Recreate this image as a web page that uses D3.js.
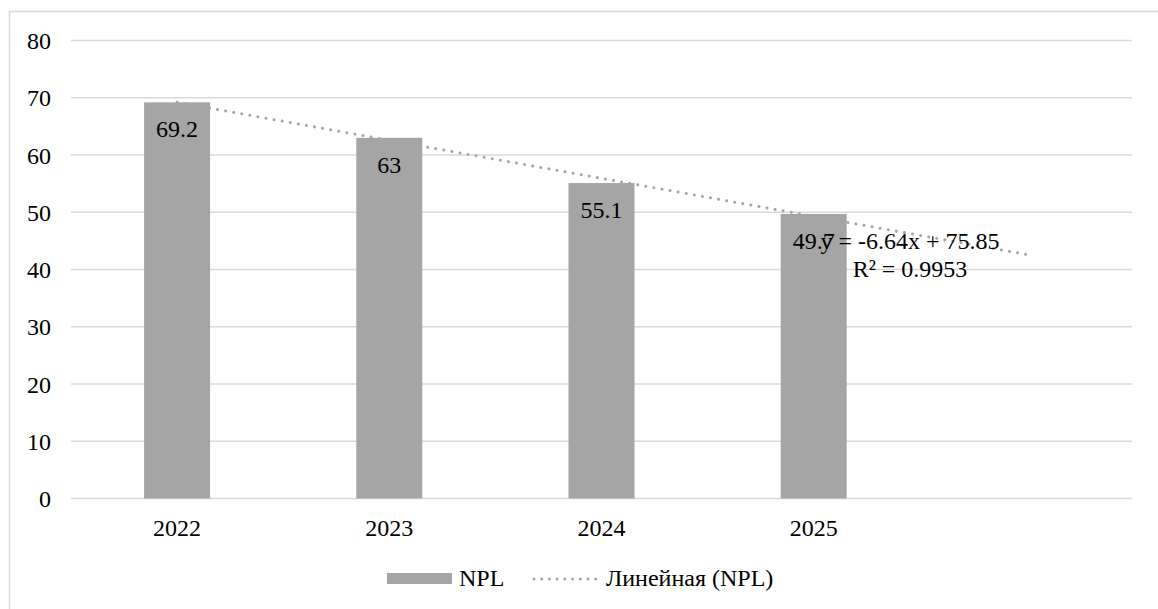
<!DOCTYPE html>
<html>
<head>
<meta charset="utf-8">
<script src="https://cdn.jsdelivr.net/npm/d3@7"></script>
<style>
  html, body { margin: 0; padding: 0; background: #fff; }
  svg { display: block; }
  svg text { font-family: 'Liberation Serif', 'Times New Roman', serif; }
</style>
</head>
<body>
<svg id="chart" width="1158" height="609" font-family="Liberation Serif"></svg>
<script>
// NPL by year, with one extra empty slot for the trend forecast
const categories = ["2022", "2023", "2024", "2025", ""];
const nplValues = [69.2, 63, 55.1, 49.7];
const yTicks = [0, 10, 20, 30, 40, 50, 60, 70, 80];
const seriesName = "NPL";
const trendName = "Линейная (NPL)";
const forecastPeriods = 1;

const svg = d3.select("#chart");
const W = 1158, H = 609;
const plot = { left: 71, right: 1132, top: 40.5, bottom: 498.5 };
const barColor = "#a5a5a5";
const gridColor = "#d9d9d9";
const fontSize = 24;
const serif = "'Liberation Serif', 'Times New Roman', serif";

// apply the serif face to a text selection
const serifText = sel => sel
  .attr("font-family", "Liberation Serif")
  .style("font-family", serif)
  .attr("font-size", fontSize)
  .attr("fill", "#000");

// chart area frame
svg.append("rect")
  .attr("x", 9.5).attr("y", 11.5)
  .attr("width", W).attr("height", H)
  .attr("fill", "#fff").attr("stroke", gridColor).attr("stroke-width", 1.5);

const x = d3.scaleBand()
  .domain(categories)
  .range([plot.left, plot.right])
  .paddingInner(0.689)
  .paddingOuter(0.689 / 2);

const y = d3.scaleLinear()
  .domain([0, 80])
  .range([plot.bottom, plot.top]);

// horizontal gridlines
svg.append("g")
  .selectAll("line")
  .data(yTicks)
  .join("line")
  .attr("x1", plot.left).attr("x2", plot.right)
  .attr("y1", d => y(d)).attr("y2", d => y(d))
  .attr("stroke", gridColor).attr("stroke-width", 1.5);

// y axis labels
const yAxis = d3.axisLeft(y).tickValues(yTicks).tickSize(0).tickPadding(0);
svg.append("g")
  .attr("transform", `translate(51,0)`)
  .call(yAxis)
  .call(g => g.attr("font-family", null).attr("font-size", null))
  .call(g => g.select(".domain").remove())
  .call(g => g.selectAll("text").call(serifText).attr("dy", "0.34em"));

// x axis labels
const xAxis = d3.axisBottom(x).tickSize(0).tickPadding(0);
svg.append("g")
  .attr("transform", `translate(0,${plot.bottom})`)
  .call(xAxis)
  .call(g => g.attr("font-family", null).attr("font-size", null))
  .call(g => g.select(".domain").remove())
  .call(g => g.selectAll("text").call(serifText).attr("y", 0).attr("dy", 37));

// bars
const barData = nplValues.map((v, i) => ({ cat: categories[i], value: v }));
svg.append("g")
  .selectAll("rect")
  .data(barData)
  .join("rect")
  .attr("x", d => x(d.cat))
  .attr("width", x.bandwidth())
  .attr("y", d => y(d.value))
  .attr("height", d => y(0) - y(d.value))
  .attr("fill", barColor);

// value labels inside the top of each bar
svg.append("g")
  .selectAll("text")
  .data(barData)
  .join("text")
  .call(serifText)
  .attr("x", d => x(d.cat) + x.bandwidth() / 2)
  .attr("y", d => y(d.value) + 35)
  .attr("text-anchor", "middle")
  .text(d => d.value);

// least-squares linear trend over x = 1..n
const n = nplValues.length;
const xs = nplValues.map((_, i) => i + 1);
const mx = d3.mean(xs), my = d3.mean(nplValues);
const sxy = d3.sum(xs, (xi, i) => (xi - mx) * (nplValues[i] - my));
const sxx = d3.sum(xs, xi => (xi - mx) ** 2);
const slope = sxy / sxx;
const intercept = my - slope * mx;
const ssRes = d3.sum(xs, (xi, i) => (nplValues[i] - (slope * xi + intercept)) ** 2);
const ssTot = d3.sum(nplValues, v => (v - my) ** 2);
const r2 = 1 - ssRes / ssTot;

const center = i => x(categories[i]) + x.bandwidth() / 2;
const trendPts = [1, n + forecastPeriods].map(t => [center(t - 1), y(slope * t + intercept)]);

svg.append("path")
  .attr("d", d3.line()(trendPts))
  .attr("fill", "none")
  .attr("stroke", "#a5a5a5")
  .attr("stroke-width", 3)
  .attr("stroke-linecap", "round")
  .attr("stroke-dasharray", "0.01 8.2");

// trend equation
const eq = svg.append("text")
  .call(serifText)
  .attr("x", 910).attr("y", 249)
  .attr("text-anchor", "middle");
eq.append("tspan").attr("x", 910)
  .text(`y = ${slope.toFixed(2)}x + ${intercept.toFixed(2)}`);
eq.append("tspan").attr("x", 910).attr("dy", 28)
  .text(`R² = ${r2.toFixed(4)}`);

// legend
const legend = svg.append("g");
legend.append("rect")
  .attr("x", 387).attr("y", 573).attr("width", 65).attr("height", 11)
  .attr("fill", barColor);
legend.append("text")
  .call(serifText)
  .attr("x", 459).attr("y", 586)
  .text(seriesName);
legend.append("line")
  .attr("x1", 534).attr("x2", 596).attr("y1", 579).attr("y2", 579)
  .attr("stroke", "#a5a5a5").attr("stroke-width", 3)
  .attr("stroke-linecap", "round").attr("stroke-dasharray", "0.01 7.7");
legend.append("text")
  .call(serifText)
  .attr("x", 606).attr("y", 586)
  .text(trendName);
</script>
</body>
</html>
